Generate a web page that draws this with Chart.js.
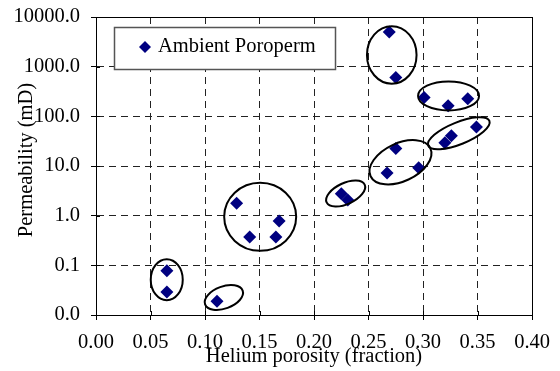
<!DOCTYPE html>
<html>
<head>
<meta charset="utf-8">
<script src="https://cdn.jsdelivr.net/npm/chart.js@4"></script>
<style>
  html, body { margin: 0; padding: 0; background: #ffffff; }
  #wrap { width: 560px; height: 371px; position: relative; }
</style>
</head>
<body>
<div id="wrap"><canvas id="chart"></canvas></div>
<script>
// Helium porosity (fraction) and ambient permeability (mD) per core plug
const porosity = [0.065, 0.065, 0.111, 0.129, 0.141, 0.165, 0.168, 0.225, 0.231,
                  0.269, 0.275, 0.301, 0.323, 0.341, 0.349, 0.326, 0.320, 0.275, 0.296, 0.267];
const permeability = [0.078, 0.029, 0.019, 1.77, 0.37, 0.37, 0.78, 2.75, 2.06,
                      5000, 606, 240, 163, 225, 61, 40.5, 29.3, 22.6, 9.2, 7.2];

const seriesLabel = 'Ambient Poroperm';
const xTitle = 'Helium porosity (fraction)';
const yTitle = 'Permeability (mD)';
const xTickLabels = ['0.00', '0.05', '0.10', '0.15', '0.20', '0.25', '0.30', '0.35', '0.40'];
const yTickValues = [0.01, 0.1, 1, 10, 100, 1000, 10000];
const yTickLabels = ['0.0', '0.1', '1.0', '10.0', '100.0', '1000.0', '10000.0'];

// Grouping ellipses: centre in data units (porosity, permeability)
const groupCenterX = [0.0649, 0.1173, 0.1506, 0.229, 0.2713, 0.3234, 0.3328, 0.2793];
const groupCenterY = [0.0515, 0.0225, 0.946, 2.79, 1722, 258, 45.6, 11.88];

// Ellipse shapes in pixels: semi-axes and tilt (degrees)
const ellipseShapes = [
  { a: 16, b: 20.5, tilt: 0 },
  { a: 20, b: 11, tilt: -20 },
  { a: 36, b: 34, tilt: 0 },
  { a: 21, b: 10.5, tilt: -25 },
  { a: 24.8, b: 28.7, tilt: 0 },
  { a: 30.5, b: 14.5, tilt: 0 },
  { a: 33, b: 11, tilt: -22 },
  { a: 33, b: 19, tilt: -25 }
];

const FONT = "'Liberation Serif', 'Times New Roman', serif";
const FONT_SIZE = 20.5;
const POINT_COLOR = '#000080';

const points = porosity.map((x, i) => ({ x: x, y: permeability[i] }));

// Frame, inward tick marks, grouping ellipses, y title and the boxed legend
const decorations = {
  id: 'decorations',
  afterDatasetsDraw(chart) {
    const { ctx, chartArea: ca, scales } = chart;
    const xs = scales.x, ys = scales.y;
    ctx.save();

    // ellipses
    ctx.strokeStyle = '#000000';
    ctx.lineWidth = 2;
    groupCenterX.forEach((cx, i) => {
      const s = ellipseShapes[i];
      const px = xs.getPixelForValue(cx);
      const py = ys.getPixelForValue(groupCenterY[i]);
      ctx.beginPath();
      ctx.ellipse(px, py, s.a, s.b, s.tilt * Math.PI / 180, 0, Math.PI * 2);
      ctx.stroke();
    });

    // frame
    ctx.lineWidth = 1;
    ctx.strokeStyle = '#000000';
    ctx.strokeRect(Math.round(ca.left) + 0.5, Math.round(ca.top) + 0.5,
                   Math.round(ca.right - ca.left), Math.round(ca.bottom - ca.top));

    // inward halves of tick marks
    ctx.beginPath();
    xs.ticks.forEach(t => {
      const px = Math.round(xs.getPixelForValue(t.value)) + 0.5;
      ctx.moveTo(px, ca.bottom);
      ctx.lineTo(px, ca.bottom - 4);
    });
    ys.ticks.forEach(t => {
      const py = Math.round(ys.getPixelForValue(t.value)) + 0.5;
      ctx.moveTo(ca.left, py);
      ctx.lineTo(ca.left + 4, py);
    });
    ctx.stroke();

    // y axis title
    ctx.fillStyle = '#000000';
    ctx.font = FONT_SIZE + 'px ' + FONT;
    ctx.textBaseline = 'middle';
    ctx.textAlign = 'center';
    ctx.save();
    ctx.translate(27, (ca.top + ca.bottom) / 2 - 6);
    ctx.rotate(-Math.PI / 2);
    ctx.fillText(yTitle, 0, 0);
    ctx.restore();

    // legend box
    const bx = 114.5, by = 27.5, bw = 221, bh = 42;
    ctx.fillStyle = '#ffffff';
    ctx.fillRect(bx, by, bw, bh);
    ctx.strokeStyle = '#555555';
    ctx.lineWidth = 1.5;
    ctx.strokeRect(bx, by, bw, bh);
    Chart.helpers.drawPoint(ctx, {
      pointStyle: 'rectRot', radius: 6, rotation: 0, borderWidth: 0,
    }, 145, 47);
    ctx.fillStyle = POINT_COLOR;
    ctx.fill();
    ctx.fillStyle = '#000000';
    ctx.textAlign = 'left';
    ctx.fillText(chart.data.datasets[0].label, 158, 47);

    ctx.restore();
  }
};

new Chart(document.getElementById('chart'), {
  type: 'scatter',
  data: {
    datasets: [{
      label: seriesLabel,
      data: points,
      pointStyle: 'rectRot',
      pointRadius: 6.5,
      pointHoverRadius: 6.5,
      backgroundColor: POINT_COLOR,
      borderColor: POINT_COLOR,
      borderWidth: 0
    }]
  },
  options: {
    responsive: true,
    maintainAspectRatio: false,
    animation: false,
    events: [],
    layout: { autoPadding: false, padding: { left: 0, right: 26, top: 17, bottom: 0 } },
    plugins: {
      legend: { display: false },
      tooltip: { enabled: false }
    },
    scales: {
      x: {
        type: 'linear',
        min: 0,
        max: 0.4,
        afterBuildTicks(scale) {
          scale.ticks = xTickLabels.map((_, i) => ({ value: i * 0.05 }));
        },
        afterFit(scale) { scale.height = 56; },
        ticks: {
          color: '#000000',
          font: { family: FONT, size: FONT_SIZE },
          padding: 10,
          maxRotation: 0,
          autoSkip: false,
          callback: (v, i) => xTickLabels[i]
        },
        grid: {
          color: '#222222',
          lineWidth: 1,
          drawTicks: true,
          tickLength: 5,
          tickColor: '#000000',
          tickBorderDash: []
        },
        border: { display: true, color: '#000000', width: 1, dash: [7, 5] },
        title: {
          display: true,
          text: xTitle,
          color: '#000000',
          font: { family: FONT, size: FONT_SIZE },
          padding: { top: 0, bottom: 2 }
        }
      },
      y: {
        type: 'logarithmic',
        min: 0.01,
        max: 10000,
        afterBuildTicks(scale) {
          scale.ticks = yTickValues.map(v => ({ value: v }));
        },
        afterFit(scale) {
          scale.width = 96;
          scale.paddingTop = 10;
          scale.paddingBottom = 10;
        },
        ticks: {
          color: '#000000',
          font: { family: FONT, size: FONT_SIZE },
          padding: 11,
          autoSkip: false,
          callback: (v, i) => yTickLabels[i]
        },
        grid: {
          color: '#222222',
          lineWidth: 1,
          drawTicks: true,
          tickLength: 5,
          tickColor: '#000000',
          tickBorderDash: []
        },
        border: { display: true, color: '#000000', width: 1, dash: [7, 5] },
        title: { display: false }
      }
    }
  },
  plugins: [decorations]
});
</script>
</body>
</html>
